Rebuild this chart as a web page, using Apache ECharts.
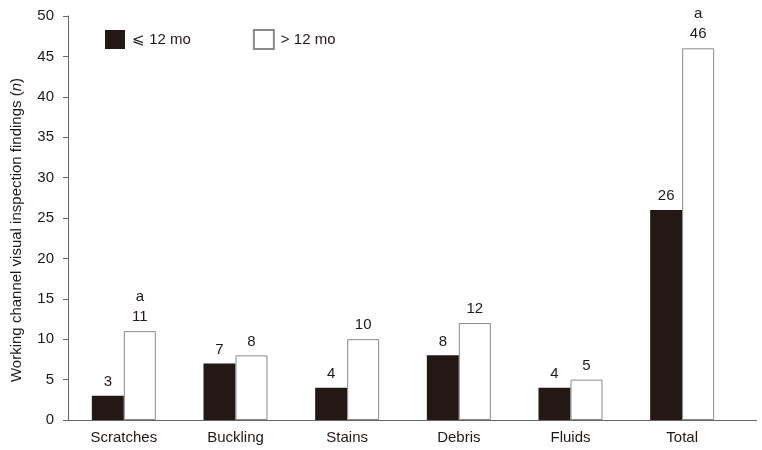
<!DOCTYPE html>
<html><head><meta charset="utf-8">
<script src="https://cdn.jsdelivr.net/npm/echarts@6/dist/echarts.min.js"></script>
<style>html,body{margin:0;padding:0;background:#fff}#c{width:762px;height:450px}</style>
</head><body><div id="c"></div>
<script>
const categories = ['Scratches','Buckling','Stains','Debris','Fluids','Total'];
const le12 = [3,7,4,8,4,26];
const gt12 = [11,8,10,12,5,46];
const gt12Sig = [true,false,false,false,false,true];
const yTicks = [0,5,10,15,20,25,30,35,40,45,50];
const FONT = 'Liberation Sans';
const TXT = '#231815';
const chart = echarts.init(document.getElementById('c'));
chart.setOption({
  animation:false,
  textStyle:{fontFamily:FONT},
  grid:{left:68,right:24,top:16,bottom:30},
  legend:{left:100,top:24,itemWidth:20,itemHeight:19,itemGap:62,
    textStyle:{fontSize:15,color:TXT,fontFamily:FONT,padding:[0,0,0,2]},
    data:[{name:'⩽ 12 mo',icon:'rect'},{name:'> 12 mo',icon:'rect'}]},
  xAxis:{type:'category',data:categories,z:5,
    axisLine:{lineStyle:{color:'#666',width:1}},axisTick:{show:false},
    axisLabel:{fontSize:15,color:TXT,margin:10,fontFamily:FONT}},
  yAxis:{type:'value',min:0,max:50,interval:5,
    name:'Working channel visual inspection findings ({i|n})',
    nameLocation:'middle',nameGap:44,nameRotate:90,
    nameTextStyle:{fontSize:15,color:TXT,fontFamily:FONT,padding:[0,24,0,0],
      rich:{i:{fontStyle:'italic',fontSize:15,color:TXT,fontFamily:FONT}}},
    axisLine:{show:true,lineStyle:{color:'#666'}},
    axisTick:{show:true,length:5,lineStyle:{color:'#666'}},
    splitLine:{show:false},
    axisLabel:{fontSize:15,color:TXT,margin:14,fontFamily:FONT,
      formatter:v=>yTicks.includes(v)?String(v):''}},
  graphic:[{type:'line',z:5,shape:{x1:737,y1:420.5,x2:757,y2:420.5},style:{stroke:'#666',lineWidth:1},silent:true}],
  series:[
    {name:'⩽ 12 mo',type:'bar',data:le12,barWidth:32,barGap:'0%',
      itemStyle:{color:'#231815'},
      label:{show:true,position:'top',distance:4,fontSize:15,lineHeight:20,color:TXT,fontFamily:FONT}},
    {name:'> 12 mo',type:'bar',barWidth:32,
      data:gt12.map((v,i)=>({value:v,label:{formatter:gt12Sig[i]?'a\n'+v:String(v)}})),
      itemStyle:{color:'#fff',borderColor:'#8a8a8a',borderWidth:1},
      label:{show:true,position:'top',distance:4,fontSize:15,lineHeight:20,color:TXT,fontFamily:FONT}}
  ]
});
</script></body></html>
